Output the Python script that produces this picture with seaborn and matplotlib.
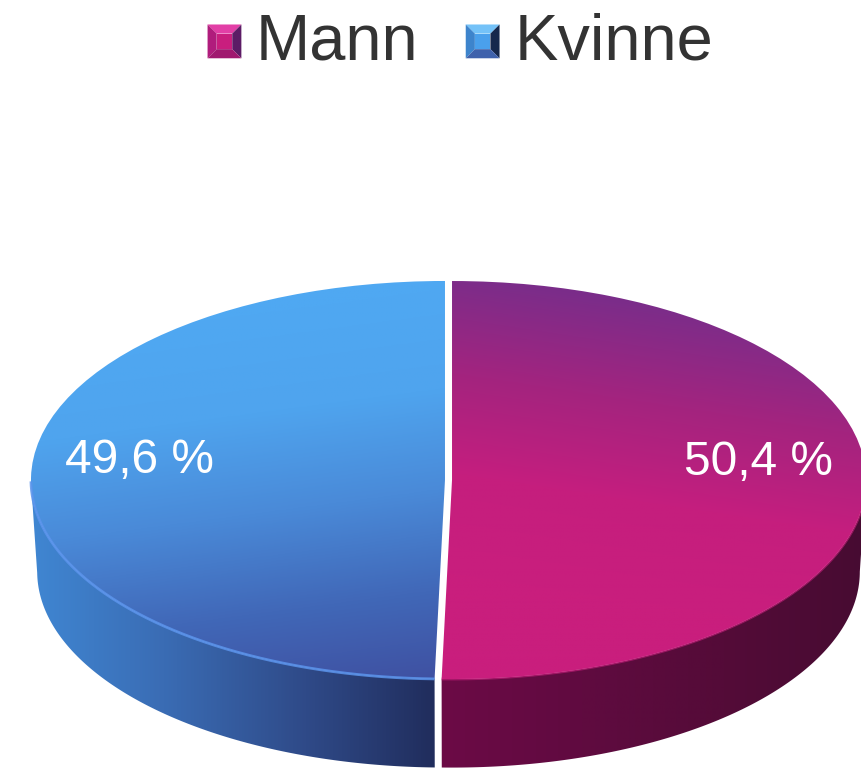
import numpy as np
import matplotlib
matplotlib.use('Agg')
import matplotlib.pyplot as plt
import seaborn as sns
from matplotlib.legend_handler import HandlerBase
from matplotlib.patches import Patch, Polygon

labels = ['Mann', 'Kvinne']
values = [50.4, 49.6]

# top face, side wall and legend square colours
top_colors = [['#7a2d8a', '#a3247f', '#c51e7e', '#c91e7d', '#c91e7d'],
              ['#4fa8f2', '#4fa4ee', '#4a8ad8', '#4168b8', '#3f4e9f']]
side_colors = [['#6c0a46', '#600b40', '#540b38', '#470c32'],
               ['#4088d4', '#3a6cb4', '#2f4a88', '#1f2a58']]
rim_colors = ['#c91e7d', '#5b94ec']
rim_alpha = [0.6, 0.85]
bevel_colors = [['#c91e7e', '#e23fa6', '#b01c7c', '#5c1c66', '#a0186f'],
                ['#4aa0ec', '#74c2f8', '#3d84cc', '#16284c', '#3f62ac']]

sns.set_theme(style='white')
plt.rcParams['font.family'] = ['Liberation Sans', 'DejaVu Sans']

depth = 0.46
taper = 0.985


class BevelHandler(HandlerBase):
    def create_artists(self, legend, orig_handle, xdescent, ydescent, width, height, fontsize, trans):
        cols = bevel_colors[labels.index(orig_handle.get_label())]
        x0, y0 = -xdescent, -ydescent - 2.2
        x1, y1 = x0 + width, y0 + width
        b = width * 0.27
        inner = [(x0 + b, y0 + b), (x1 - b, y0 + b), (x1 - b, y1 - b), (x0 + b, y1 - b)]
        faces = [[(x0, y1), (x1, y1), inner[2], inner[3]],
                 [(x0, y0), (x0, y1), inner[3], inner[0]],
                 [(x1, y0), (x1, y1), inner[2], inner[1]],
                 [(x0, y0), (x1, y0), inner[1], inner[0]]]
        out = [Polygon(inner, fc=cols[0], ec='none', transform=trans)]
        for f, c in zip(faces, cols[1:]):
            out.append(Polygon(f, fc=c, ec='none', transform=trans))
        return out


fig = plt.figure(figsize=(8.62, 7.70), dpi=100)
ax = fig.add_axes([0, 0, 1, 1])
wedges, _ = ax.pie(values, startangle=90, counterclock=False, radius=1,
                   explode=[0.0085, 0.0085], colors=['none', 'none'])

xlim = (-448.5 / 414, 413.5 / 414)
ylim = (-290 / 199, 480 / 199)
u, v = np.meshgrid(np.linspace(-1, 1, 500), np.linspace(1, -1, 500))

for i, w in enumerate(wedges):
    # angles of the slice seen from the front, they come from the pie itself
    a1, a2 = sorted((w.theta1, w.theta2))
    ang = np.radians(np.linspace(a1, a2, 400))
    ang = ang[np.sin(ang) <= 0.0]
    cx, cy = w.center
    upper = np.column_stack([cx + np.cos(ang), cy + np.sin(ang)])
    lower = np.column_stack([cx + taper * np.cos(ang), cy - depth + taper * np.sin(ang)])
    wall = Polygon(np.vstack([upper, lower[::-1]]), closed=True, fc='none', ec='none')
    ax.add_patch(wall)

    side_cmap = sns.blend_palette(side_colors[i], as_cmap=True)
    if i == 0:
        side_t = u + 0.02
    else:
        side_t = u + 1
    im = ax.imshow(np.clip(side_t, 0, 1), cmap=side_cmap, vmin=0, vmax=1, aspect='auto',
                   extent=(-1.03, 1.03, -1.5, 1), zorder=1)
    im.set_clip_path(wall)

    top_cmap = sns.blend_palette(top_colors[i], as_cmap=True)
    # y=1 top of the face, y=-1 front edge, tilted a bit sideways
    if i == 0:
        top_t = np.clip(0.5 * (1 - v) - 0.16 * u + 0.02, 0, 1)
    else:
        top_t = np.clip(0.5 * (1 - v) + 0.14 * u - 0.02, 0, 1)
    im = ax.imshow(top_t, cmap=top_cmap, vmin=0, vmax=1, aspect='auto',
                   extent=(-1.03, 1.03, -1.01, 1.01), zorder=2)
    im.set_clip_path(w)

    ax.plot(upper[:, 0], upper[:, 1], color=rim_colors[i], lw=2, alpha=rim_alpha[i], zorder=3,
            solid_capstyle='butt')

ax.set_aspect('auto')
ax.set_xlim(xlim)
ax.set_ylim(ylim)
ax.axis('off')

ax.text(-0.747, 0.1, f'{values[1]:.1f} %'.replace('.', ','), color='white', fontsize=34.5,
        ha='center', va='center', zorder=4)
ax.text(0.75, 0.09, f'{values[0]:.1f} %'.replace('.', ','), color='white', fontsize=34.5,
        ha='center', va='center', zorder=4)

handles = [Patch(label=n) for n in labels]
ax.legend(handles=handles, labels=labels, ncol=2, frameon=False, fontsize=46.8,
          labelcolor='#333333', handler_map={Patch: BevelHandler()},
          handlelength=0.52, handleheight=0.52, handletextpad=0.227, columnspacing=0.723,
          loc='upper center', bbox_to_anchor=(0.534, 0.984), borderaxespad=0, borderpad=0)

fig.savefig('out.png', dpi=100)
